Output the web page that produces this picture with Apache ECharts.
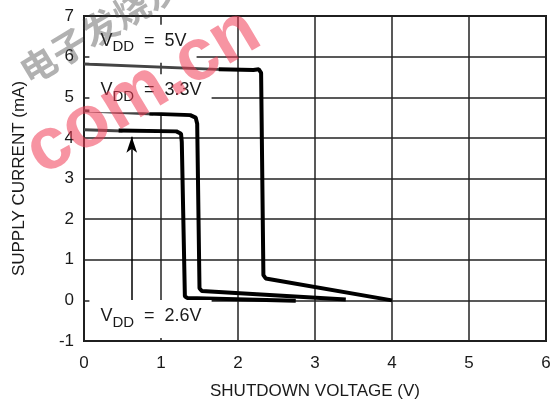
<!DOCTYPE html>
<html>
<head>
<meta charset="utf-8">
<script src="https://cdn.jsdelivr.net/npm/echarts@6/dist/echarts.min.js"></script>
<style>
  html, body { margin: 0; padding: 0; background: #fff; }
  #chart { width: 558px; height: 410px; }
</style>
</head>
<body>
<div id="chart"></div>
<script>
// shutdown voltage (V) vs supply current (mA)
const vdd5Start = [[0, 5.82], [1.8, 5.68]];
const vdd5 = [[1.75, 5.69], [2.2, 5.67], [2.27, 5.69], [2.3, 5.6], [2.33, 0.62], [2.36, 0.54], [4.0, 0.0]];
const vdd33Start = [[0, 4.67], [0.9, 4.59]];
const vdd33 = [[0.85, 4.6], [1.38, 4.56], [1.45, 4.5], [1.47, 4.35], [1.5, 0.3], [1.53, 0.23], [3.4, 0.02]];
const vdd26Start = [[0, 4.2], [0.5, 4.17]];
const vdd26 = [[0.45, 4.18], [1.2, 4.16], [1.26, 4.1], [1.27, 3.9], [1.31, 0.1], [1.34, 0.06], [2.75, -0.01]];
const arrowLine = [[0.62, -0.2], [0.62, 4.03]];

const labelNames = ['5V', '3.3V', '2.6V'];
const labelCoords = [[0.07, 6.32], [0.07, 5.1], [0.07, -0.46]];

const font = "'Liberation Sans', Arial, sans-serif";
const ink = '#1a1a1a';

const chart = echarts.init(document.getElementById('chart'));

function curve(data, color, width) {
  return {
    type: 'line',
    data: data,
    symbol: 'none',
    smooth: false,
    lineStyle: { color: color, width: width },
    z: 3,
  };
}

chart.setOption({
  animation: false,
  grid: {
    left: 84,
    right: 12,
    top: 16,
    bottom: 69,
    show: true,
    borderColor: ink,
    borderWidth: 2,
  },
  xAxis: {
    type: 'value',
    min: 0,
    max: 6,
    interval: 1,
    name: 'SHUTDOWN VOLTAGE (V)',
    nameLocation: 'middle',
    nameGap: 42,
    nameTextStyle: { fontFamily: font, fontSize: 17, color: ink },
    axisLine: { show: false },
    axisTick: { show: false },
    axisLabel: { fontFamily: font, fontSize: 17, color: ink, margin: 14 },
    splitLine: { lineStyle: { color: '#222', width: 1.5 } },
  },
  yAxis: {
    type: 'value',
    min: -1,
    max: 7,
    interval: 1,
    name: 'SUPPLY CURRENT (mA)',
    nameLocation: 'middle',
    nameGap: 56,
    nameTextStyle: { fontFamily: font, fontSize: 17, color: ink },
    axisLine: { show: false },
    axisTick: { show: false },
    axisLabel: { fontFamily: font, fontSize: 17, color: ink, margin: 10 },
    splitLine: { lineStyle: { color: '#222', width: 1.5 } },
  },
  series: [
    curve(vdd5Start, '#444', 3),
    curve(vdd5, '#000', 4),
    curve(vdd33Start, '#444', 3),
    curve(vdd33, '#000', 4),
    curve(vdd26Start, '#444', 3),
    curve(vdd26, '#000', 4),
    {
      type: 'line',
      data: [],
      markLine: {
        silent: true,
        symbol: ['none', 'arrow'],
        symbolSize: [8, 16],
        label: { show: false },
        lineStyle: { color: '#000', width: 1.5, type: 'solid' },
        data: [[{ coord: arrowLine[0] }, { coord: arrowLine[1] }]],
      },
    },
  ],
});

// VDD labels sit on white boxes that hide the grid, placed through the axes
const labelGraphics = labelCoords.map((c, i) => {
  const p = chart.convertToPixel({ gridIndex: 0 }, c);
  return {
    type: 'text',
    x: p[0],
    y: p[1],
    z: 50,
    style: {
      text: '{v|V}{s|DD}{v|  =  ' + labelNames[i] + '}',
      verticalAlign: 'middle',
      backgroundColor: '#ffffff',
      padding: [6, 10, 8, 11],
      rich: {
        v: { fontFamily: font, fontSize: 18, fill: ink, padding: [0, 0, 4, 0] },
        s: { fontFamily: font, fontSize: 15, fill: ink, padding: [9, 0, 0, 0] },
      },
    },
  };
});

chart.setOption({
  graphic: labelGraphics.concat([
    {
      type: 'text',
      x: 143,
      y: 92,
      rotation: 0.54,
      z: 100,
      style: {
        text: 'com.cn',
        fontSize: 74,
        fontWeight: 'bold',
        fontFamily: 'Liberation Sans, sans-serif',
        fill: 'rgba(240, 60, 85, 0.55)',
        align: 'center',
        verticalAlign: 'middle',
      },
    },
    {
      type: 'text',
      x: 100,
      y: 28,
      rotation: 0.54,
      z: 100,
      style: {
        text: '电子发烧友',
        fontSize: 36,
        fontWeight: 'bold',
        fontFamily: 'Noto Sans CJK SC, sans-serif',
        fill: 'rgba(60, 60, 60, 0.4)',
        align: 'center',
        verticalAlign: 'middle',
      },
    },
  ]),
});
</script>
</body>
</html>
